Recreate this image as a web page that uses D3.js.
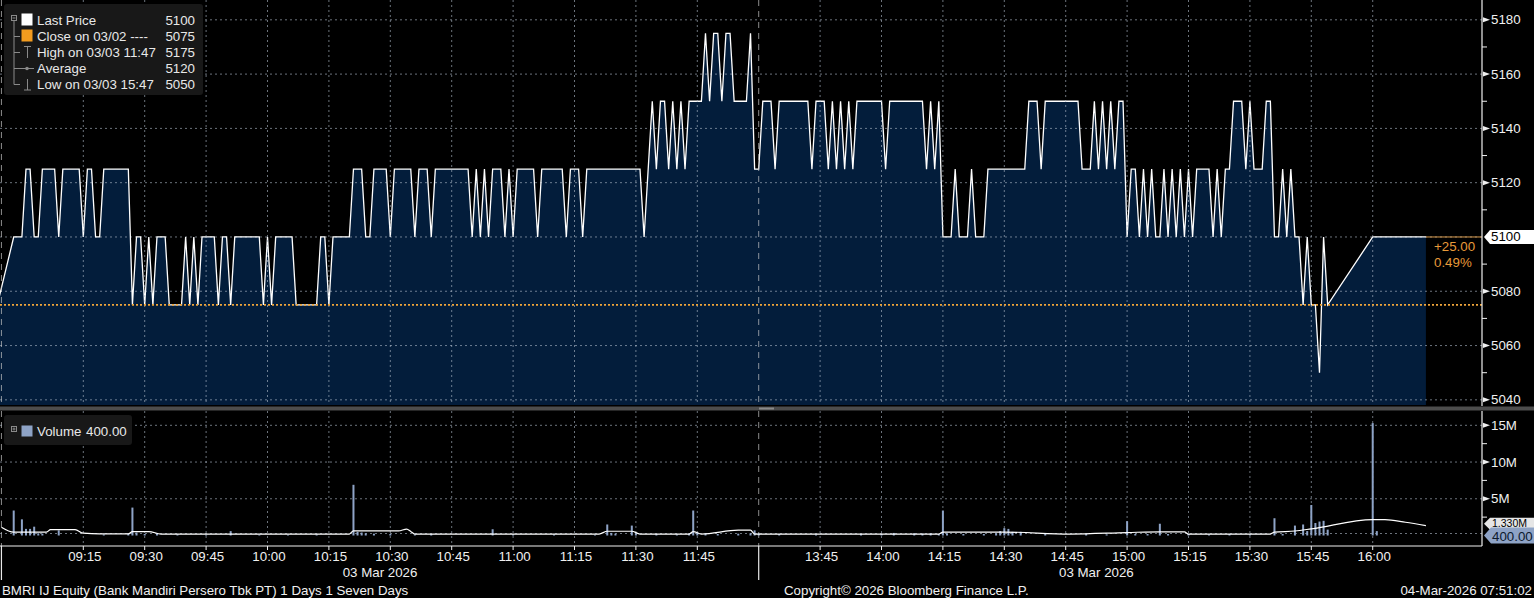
<!DOCTYPE html>
<html><head><meta charset="utf-8">
<script src="https://cdn.jsdelivr.net/npm/d3@7/dist/d3.min.js"></script>
<style>
html,body{margin:0;padding:0;background:#000;overflow:hidden;}
svg{display:block;font-family:"Liberation Sans",Arial,sans-serif;}
</style></head><body>
<svg id="c" width="1534" height="598"></svg>
<script>
// ---------------- DATA ----------------
const openTime = "08:54", openPrice = 5075;
const amStart = "08:58";               // one value per minute, 08:58 - 11:59
const amPrices = [
  5100,5100,5100,5125,5125,5100,5100,5125,5125,5125, // 08:58
  5125,5100,5125,5125,5125,5125,5125,5100,5125,5125, // 09:08
  5100,5100,5125,5125,5125,5125,5125,5125,5125,5075, // 09:18
  5100,5100,5075,5100,5075,5100,5100,5100,5075,5075, // 09:28
  5075,5075,5100,5075,5100,5075,5100,5100,5100,5100, // 09:38
  5075,5100,5100,5075,5100,5100,5100,5100,5100,5100, // 09:48
  5100,5075,5100,5075,5100,5100,5100,5100,5100,5075, // 09:58
  5075,5075,5075,5075,5075,5100,5100,5075,5100,5100, // 10:08
  5100,5100,5100,5125,5125,5125,5100,5100,5125,5125, // 10:18
  5125,5125,5100,5125,5125,5125,5125,5125,5100,5125, // 10:28
  5125,5125,5100,5125,5125,5125,5125,5125,5125,5125, // 10:38
  5125,5125,5100,5125,5100,5125,5100,5125,5125,5125, // 10:48
  5100,5125,5100,5125,5125,5125,5125,5125,5100,5125, // 10:58
  5125,5125,5125,5125,5125,5100,5125,5125,5125,5100, // 11:08
  5125,5125,5125,5125,5125,5125,5125,5125,5125,5125, // 11:18
  5125,5125,5125,5125,5100,5125,5150,5125,5150,5150, // 11:28
  5125,5150,5125,5150,5125,5150,5150,5150,5150,5175, // 11:38
  5150,5175,5175,5150,5175,5175,5150,5150,5150,5150, // 11:48
  5175,5125                                          // 11:58
];
const pmStart = "13:30";               // one value per minute, 13:30 - 15:49
const pmPrices = [
  5125,5150,5150,5150,5125,5150,5150,5150,5150,5150, // 13:30
  5150,5150,5150,5125,5150,5150,5150,5125,5150,5125, // 13:40
  5150,5125,5150,5125,5150,5150,5150,5150,5150,5150, // 13:50
  5150,5125,5150,5150,5150,5150,5150,5150,5150,5150, // 14:00
  5150,5125,5150,5125,5150,5100,5100,5100,5125,5100, // 14:10
  5100,5100,5125,5100,5100,5100,5125,5125,5125,5125, // 14:20
  5125,5125,5125,5125,5125,5125,5150,5150,5150,5125, // 14:30
  5150,5150,5150,5150,5150,5150,5150,5150,5150,5125, // 14:40
  5125,5125,5150,5125,5150,5125,5150,5125,5150,5150, // 14:50
  5100,5125,5125,5100,5125,5100,5125,5100,5100,5125, // 15:00
  5100,5125,5100,5125,5100,5125,5100,5125,5125,5125, // 15:10
  5125,5100,5125,5100,5125,5125,5150,5150,5150,5125, // 15:20
  5150,5125,5125,5125,5150,5150,5100,5100,5125,5100, // 15:30
  5125,5100,5100,5075,5100,5075,5075,5050,5100,5075  // 15:40
];
const closeTimes = ["16:00", "16:13"];
const closePrices = [5100, 5100];

const prevClose = 5075;
const lastPrice = 5100;

const volTimes = ["08:58","09:00","09:01","09:02","09:03","09:04","09:05","09:09","09:20","09:26","09:27","09:28","09:30","09:33","09:38","09:45","09:51","09:58","10:05","10:12",
  "10:21","10:22","10:23","10:24","10:26","10:30","10:36","10:40","10:55","11:00","11:10","11:20","11:23","11:24","11:25","11:29","11:30","11:35","11:40","11:43","11:44","11:45","11:47","11:50","11:55","11:58","11:59",
  "13:30","13:35","13:44","13:55","14:00","14:03","14:08","14:10","14:12","14:14","14:15","14:16","14:20","14:25","14:28","14:29","14:30","14:31","14:32","14:34","14:40","14:50","14:55",
  "15:00","15:02","15:05","15:08","15:10","15:15","15:20","15:25","15:30","15:36","15:38","15:41","15:43","15:44","15:45","15:46","15:47","15:48","15:49","16:00","16:01"];
const volValues = [3.4,2.2,0.9,0.9,1.2,0.3,0.25,0.7,0.15,0.3,3.8,0.4,0.2,0.25,0.15,0.1,0.6,0.1,0.1,0.15,
  6.9,0.5,0.4,0.3,0.25,0.2,0.15,0.2,0.85,0.15,0.15,0.1,1.5,0.35,0.25,1.35,0.3,0.2,0.15,0.3,3.4,0.4,0.3,0.2,0.25,0.3,0.7,
  0.3,0.2,0.15,0.2,0.2,0.35,0.3,0.25,0.3,0.2,3.4,0.3,0.2,0.2,0.3,0.6,1.0,0.9,0.5,0.5,0.2,0.2,0.15,
  1.95,0.2,0.2,1.6,0.2,0.2,0.15,0.2,0.15,2.35,0.2,1.35,1.5,0.6,4.15,1.7,1.9,2.0,0.8,15.3,0.6]; // millions

const maTimes = ["08:55","08:58","09:06","09:07","09:13","09:15","09:19","09:26","09:27","09:31","09:34","10:20","10:21","10:32","10:34","10:35","10:36","11:21","11:23","11:29","11:31","11:43","11:44","11:46","11:55","11:58","11:59",
  "13:30","14:14","14:15","14:30","14:46","15:00","15:08","15:14","15:15","15:35","15:36","15:41","15:45","16:00","16:03","16:08","16:13"];
const maValues = [1.12,0.45,0.45,0.81,0.81,0.31,0.23,0.23,0.54,0.54,0.2,0.2,0.63,0.63,0.88,0.55,0.2,0.2,0.58,0.58,0.2,0.2,0.54,0.2,0.72,0.72,0.2,
  0.2,0.2,0.47,0.47,0.2,0.4,0.5,0.5,0.2,0.2,0.45,0.61,0.9,2.16,2.16,1.8,1.33];

const timeTicks = ["09:15","09:30","09:45","10:00","10:15","10:30","10:45","11:00","11:15","11:30","11:45",
                   "13:45","14:00","14:15","14:30","14:45","15:00","15:15","15:30","15:45","16:00"];
const sessionStarts = ["08:55","13:30"];
const sessionEnds = ["12:00","16:15"];
const sessionDates = ["03 Mar 2026","03 Mar 2026"];
const priceTicks = [5040,5060,5080,5100,5120,5140,5160,5180];
const priceMinorTicks = [5050,5070,5090,5110,5130,5150,5170];
const volTicks = [5,10,15];
const volMinorTicks = [2.5,7.5,12.5];
const volTickLabels = ["5M","10M","15M"];

const legendLabels = ["Last Price","Close on 03/02 ----","High on 03/03 11:47","Average","Low on 03/03 15:47"];
const legendValues = ["5100","5075","5175","5120","5050"];
const volLegendLabel = "Volume", volLegendValue = "400.00";
const volMALabel = "1.330M", volMAValue = 1.33;
const changeText = ["+25.00","0.49%"];
const footerLeft = "BMRI IJ Equity (Bank Mandiri Persero Tbk PT) 1 Days 1 Seven Days";
const footerMid = "Copyright\u00A9 2026 Bloomberg Finance L.P.";
const footerRight = "04-Mar-2026 07:51:02";
const axisStart = "08:54:39", axisEnd = "16:26:42";

// ---------------- HELPERS ----------------
function tmin(s){ const p = s.split(":").map(Number); return p[0]*60 + p[1] + (p[2]||0)/60; }
const LUNCH = tmin("13:30") - tmin("12:00");
function cmin(s){ const v = tmin(s); return v >= tmin("13:30") ? v - LUNCH : v; }
function fmt(m){ const h = Math.floor(m/60), mm = Math.round(m%60); return String(h).padStart(2,"0")+":"+String(mm).padStart(2,"0"); }

const pricePts = [{t: openTime, v: openPrice}];
amPrices.forEach((v,i) => pricePts.push({t: fmt(tmin(amStart)+i), v}));
pmPrices.forEach((v,i) => pricePts.push({t: fmt(tmin(pmStart)+i), v}));
closeTimes.forEach((t,i) => pricePts.push({t, v: closePrices[i]}));

// ---------------- LAYOUT ----------------
const plotRight = 1482;
const pTop = 0, pBottom = 405;
const vTop = 411, vBottom = 546;
const FS = 13.3;

const svg = d3.select("#c");
const x = d3.scaleLinear().domain([cmin(axisStart), cmin(axisEnd)]).range([0, plotRight]);
const y = d3.scaleLinear().domain([5038.1, 5187.3]).range([pBottom, pTop]);
const yv = d3.scaleLinear().domain([0, 15]).range([535.5, 425.3]);
const X = t => x(cmin(t));

svg.append("rect").attr("width",1534).attr("height",598).attr("fill","#000");

svg.append("defs").append("clipPath").attr("id","pclip")
  .append("rect").attr("x",0).attr("y",pTop).attr("width",plotRight).attr("height",pBottom-pTop);

const gP = svg.append("g").attr("clip-path","url(#pclip)");

// area
const area = d3.area().x(d => X(d.t)).y0(pBottom).y1(d => y(d.v));
gP.append("path").datum(pricePts).attr("d", area).attr("fill","#031d3b");

// grid
const gridColor = "rgba(175,185,200,0.62)";
priceTicks.forEach(v => {
  gP.append("line").attr("x1",0).attr("x2",plotRight).attr("y1",y(v)).attr("y2",y(v))
    .attr("stroke",gridColor).attr("stroke-width",1).attr("stroke-dasharray","2,3");
});
timeTicks.forEach(t => {
  svg.append("line").attr("x1",X(t)).attr("x2",X(t)).attr("y1",pTop).attr("y2",pBottom)
    .attr("stroke",gridColor).attr("stroke-width",1).attr("stroke-dasharray","2,3");
  svg.append("line").attr("x1",X(t)).attr("x2",X(t)).attr("y1",vTop).attr("y2",vBottom)
    .attr("stroke",gridColor).attr("stroke-width",1).attr("stroke-dasharray","2,3");
});
// session separators
[sessionStarts[0], sessionEnds[0]].forEach(t => {
  svg.append("line").attr("x1",X(t)).attr("x2",X(t)).attr("y1",pTop).attr("y2",pBottom)
    .attr("stroke","rgba(200,200,200,0.7)").attr("stroke-dasharray","6,5");
  svg.append("line").attr("x1",X(t)).attr("x2",X(t)).attr("y1",vTop).attr("y2",vBottom)
    .attr("stroke","rgba(200,200,200,0.7)").attr("stroke-dasharray","6,5");
  svg.append("line").attr("x1",X(t)).attr("x2",X(t)).attr("y1",vBottom).attr("y2",580)
    .attr("stroke","#e8e8e8").attr("stroke-width",1.2);
});

// previous close dotted line
svg.append("line").attr("x1",0).attr("x2",plotRight).attr("y1",y(prevClose)).attr("y2",y(prevClose))
  .attr("stroke","#f0a53a").attr("stroke-width",1.6).attr("stroke-dasharray","2,2");

// price line
const line = d3.line().x(d => X(d.t)).y(d => y(d.v));
gP.append("path").datum(pricePts).attr("d", line).attr("fill","none")
  .attr("stroke","#ffffff").attr("stroke-width",1.3).attr("stroke-linejoin","miter");

// last price extension
const lastT = closeTimes[closeTimes.length-1];
svg.append("line").attr("x1",X(lastT)).attr("x2",plotRight).attr("y1",y(lastPrice)).attr("y2",y(lastPrice))
  .attr("stroke","#d99a4a").attr("stroke-width",1);
svg.append("text").attr("x",1434).attr("y",250.5).attr("fill","#e89a3a").attr("font-size",FS).text(changeText[0]);
svg.append("text").attr("x",1434).attr("y",266.5).attr("fill","#e89a3a").attr("font-size",FS).text(changeText[1]);

// price axis
svg.append("line").attr("x1",plotRight).attr("x2",plotRight).attr("y1",0).attr("y2",406).attr("stroke","#f0f0f0").attr("stroke-width",1.2);
priceMinorTicks.forEach(v => {
  svg.append("line").attr("x1",plotRight).attr("x2",plotRight+5).attr("y1",y(v)).attr("y2",y(v)).attr("stroke","#f0f0f0");
});
priceTicks.forEach(v => {
  if (v === lastPrice) return;
  const yy = y(v);
  svg.append("path").attr("d",`M${plotRight+1},${yy-2.5}L${plotRight+8},${yy}L${plotRight+1},${yy+2.5}Z`).attr("fill","#f0f0f0");
  svg.append("text").attr("x",plotRight+9).attr("y",yy+4.5).attr("fill","#f0f0f0").attr("font-size",FS).text(v);
});
// last price tag
{
  const yy = y(lastPrice);
  svg.append("path").attr("d",`M${plotRight+2},${yy}L${plotRight+8},${yy-7}L1534,${yy-7}L1534,${yy+7}L${plotRight+8},${yy+7}Z`).attr("fill","#ffffff");
  svg.append("text").attr("x",plotRight+9).attr("y",yy+4.5).attr("fill","#000").attr("font-size",FS).text(lastPrice);
}

// divider
svg.append("rect").attr("x",0).attr("y",406.5).attr("width",1534).attr("height",4).attr("fill","#4d4d4d");
svg.append("rect").attr("x",759).attr("y",407.5).attr("width",15).attr("height",2).attr("fill","#8a8a8a");

// ---------------- VOLUME ----------------
volTicks.forEach(v => {
  svg.append("line").attr("x1",0).attr("x2",plotRight).attr("y1",yv(v)).attr("y2",yv(v))
    .attr("stroke",gridColor).attr("stroke-dasharray","2,3");
});
svg.append("line").attr("x1",0).attr("x2",plotRight).attr("y1",yv(0)-2).attr("y2",yv(0)-2)
  .attr("stroke",gridColor).attr("stroke-dasharray","2,3");

svg.append("g").selectAll("rect").data(volTimes).join("rect")
  .attr("x", t => X(t)-1).attr("width",2)
  .attr("y", (t,i) => yv(volValues[i]))
  .attr("height", (t,i) => yv(0) - yv(volValues[i]))
  .attr("fill","#8ea3c6");

const maPts = maTimes.map((t,i) => ({t, v: maValues[i]}));
svg.append("path").datum(maPts)
  .attr("d", d3.line().x(d => X(d.t)).y(d => yv(d.v)).curve(d3.curveMonotoneX))
  .attr("fill","none").attr("stroke","#ffffff").attr("stroke-width",1.2);

// volume axis
svg.append("line").attr("x1",plotRight).attr("x2",plotRight).attr("y1",vTop).attr("y2",vBottom).attr("stroke","#f0f0f0").attr("stroke-width",1.2);
volMinorTicks.forEach(v => {
  svg.append("line").attr("x1",plotRight).attr("x2",plotRight+5).attr("y1",yv(v)).attr("y2",yv(v)).attr("stroke","#f0f0f0");
});
volTicks.forEach((v,i) => {
  const yy = yv(v);
  svg.append("path").attr("d",`M${plotRight+1},${yy-2.5}L${plotRight+8},${yy}L${plotRight+1},${yy+2.5}Z`).attr("fill","#f0f0f0");
  svg.append("text").attr("x",plotRight+9).attr("y",yy+4.5).attr("fill","#f0f0f0").attr("font-size",FS).text(volTickLabels[i]);
});
{
  const yy = yv(volMAValue) - 2;
  svg.append("path").attr("d",`M${plotRight+2},${yy}L${plotRight+8},${yy-6}L1534,${yy-6}L1534,${yy+6}L${plotRight+8},${yy+6}Z`).attr("fill","#e6e6e6");
  svg.append("text").attr("x",plotRight+10).attr("y",yy+3.5).attr("fill","#000").attr("font-size",10.5).text(volMALabel);
  const y0 = yv(0);
  svg.append("path").attr("d",`M${plotRight+2},${y0}L${plotRight+9},${y0-8}L1534,${y0-8}L1534,${y0+8}L${plotRight+9},${y0+8}Z`).attr("fill","#8ea3c6");
  svg.append("text").attr("x",plotRight+10).attr("y",y0+5).attr("fill","#0d1a2e").attr("font-size",FS).text(volLegendValue);
}

// time axis
svg.append("line").attr("x1",0).attr("x2",plotRight).attr("y1",vBottom).attr("y2",vBottom).attr("stroke","#f0f0f0").attr("stroke-width",1.2);
timeTicks.forEach(t => {
  svg.append("line").attr("x1",X(t)).attr("x2",X(t)).attr("y1",vBottom).attr("y2",vBottom+4).attr("stroke","#f0f0f0");
  svg.append("text").attr("x",X(t)+1.5).attr("y",561).attr("text-anchor","middle").attr("fill","#f0f0f0").attr("font-size",FS).text(t);
});
sessionDates.forEach((d,i) => {
  const cx = (X(sessionStarts[i]) + X(sessionEnds[i])) / 2;
  svg.append("text").attr("x",cx).attr("y",577).attr("text-anchor","middle").attr("fill","#f0f0f0").attr("font-size",FS).text(d);
});

// footer
svg.append("text").attr("x",2).attr("y",594.5).attr("fill","#f0f0f0").attr("font-size",FS).text(footerLeft);
svg.append("text").attr("x",784).attr("y",594.5).attr("fill","#f0f0f0").attr("font-size",FS).text(footerMid);
svg.append("text").attr("x",1532).attr("y",594.5).attr("text-anchor","end").attr("fill","#f0f0f0").attr("font-size",FS).text(footerRight);

// ---------------- LEGENDS ----------------
const lg = svg.append("g");
lg.append("rect").attr("x",4).attr("y",4).attr("width",199).attr("height",91).attr("rx",3).attr("fill","#181818");
const rowY = [20.5, 36.5, 52.5, 68.5, 84.5];
const treeC = "#8a8a8a";
lg.append("rect").attr("x",11.5).attr("y",15.5).attr("width",5).attr("height",5).attr("fill","none").attr("stroke",treeC);
lg.append("line").attr("x1",12.5).attr("x2",15.5).attr("y1",18).attr("y2",18).attr("stroke",treeC);
lg.append("line").attr("x1",14).attr("x2",14).attr("y1",21).attr("y2",rowY[4]).attr("stroke",treeC);
rowY.slice(1).forEach(r => lg.append("line").attr("x1",14).attr("x2",20).attr("y1",r).attr("y2",r).attr("stroke",treeC));
lg.append("rect").attr("x",21.5).attr("y",13.5).attr("width",11).attr("height",12).attr("fill","#ffffff");
lg.append("rect").attr("x",21.5).attr("y",29.5).attr("width",11).attr("height",12).attr("fill","#f39c1f");
// high icon
lg.append("line").attr("x1",24).attr("x2",31).attr("y1",46.5).attr("y2",46.5).attr("stroke",treeC);
lg.append("line").attr("x1",27.5).attr("x2",27.5).attr("y1",46.5).attr("y2",58).attr("stroke",treeC);
// average icon
lg.append("line").attr("x1",20).attr("x2",34).attr("y1",68.5).attr("y2",68.5).attr("stroke",treeC);
lg.append("circle").attr("cx",27).attr("cy",68.5).attr("r",1.8).attr("fill",treeC);
// low icon
lg.append("line").attr("x1",27.5).attr("x2",27.5).attr("y1",79).attr("y2",90).attr("stroke",treeC);
lg.append("line").attr("x1",24).attr("x2",31).attr("y1",90).attr("y2",90).attr("stroke",treeC);
legendLabels.forEach((s,i) => {
  lg.append("text").attr("x",37).attr("y",rowY[i]+4.5).attr("fill","#e8e8e8").attr("font-size",FS).text(s);
  lg.append("text").attr("x",195).attr("y",rowY[i]+4.5).attr("text-anchor","end").attr("fill","#e8e8e8").attr("font-size",FS).text(legendValues[i]);
});

const vl = svg.append("g");
vl.append("rect").attr("x",4).attr("y",415).attr("width",128).attr("height",30).attr("rx",3).attr("fill","#181818");
vl.append("rect").attr("x",11.5).attr("y",426.5).attr("width",5).attr("height",5).attr("fill","none").attr("stroke",treeC);
vl.append("line").attr("x1",12.5).attr("x2",15.5).attr("y1",429).attr("y2",429).attr("stroke",treeC);
vl.append("line").attr("x1",14).attr("x2",14).attr("y1",427.5).attr("y2",430.5).attr("stroke",treeC);
vl.append("rect").attr("x",21.5).attr("y",425.5).attr("width",11).attr("height",11).attr("fill","#8ea3c6");
vl.append("text").attr("x",37).attr("y",436).attr("fill","#e8e8e8").attr("font-size",FS).text(volLegendLabel);
vl.append("text").attr("x",86).attr("y",436).attr("fill","#e8e8e8").attr("font-size",FS).text(volLegendValue);
</script>
</body></html>
